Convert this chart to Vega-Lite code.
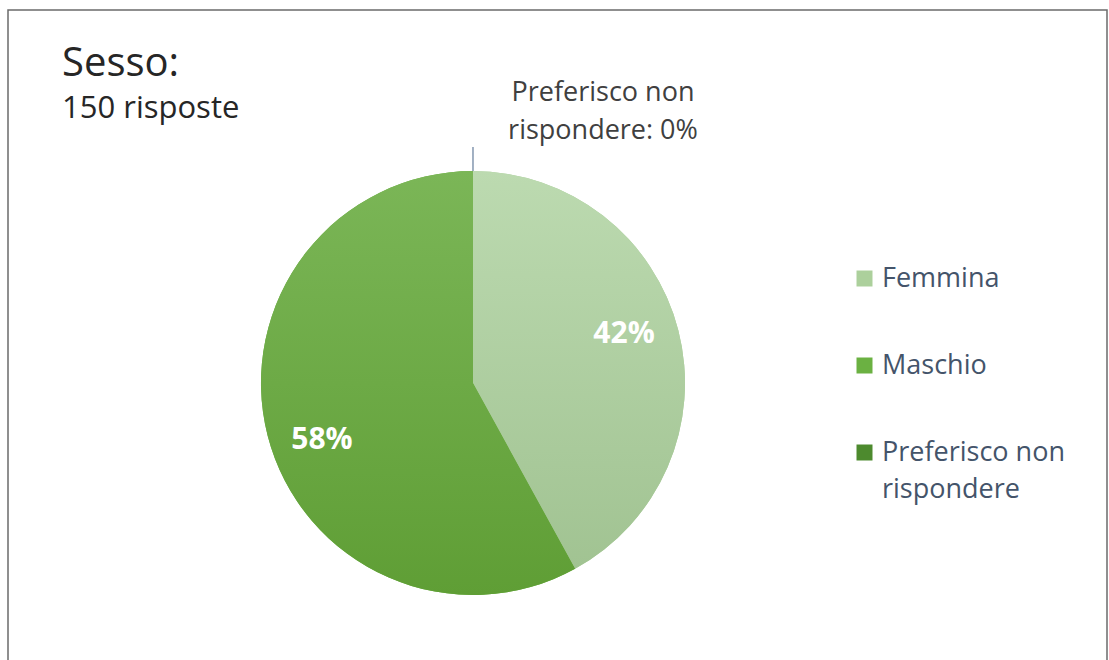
{
  "$schema": "https://vega.github.io/schema/vega-lite/v6.json",
  "width": 1099,
  "height": 700,
  "autosize": "none",
  "padding": {"left": 8, "top": 10, "right": 2, "bottom": 0},
  "config": {
    "view": {"stroke": "#6b6b6b", "strokeWidth": 1.5},
    "font": "Open Sans",
    "style": {"guide-label": {"lineHeight": 37}}
  },
  "title": {
    "text": "Sesso:",
    "subtitle": "150 risposte",
    "anchor": "start",
    "frame": "group",
    "orient": "top",
    "font": "Open Sans",
    "fontSize": 40,
    "fontWeight": "normal",
    "color": "#262626",
    "subtitleFont": "Open Sans",
    "subtitleFontSize": 31,
    "subtitleColor": "#262626",
    "subtitlePadding": 10,
    "offset": -114,
    "dx": 54
  },
  "data": {
    "values": [
      {"Sesso": "Femmina", "risposte": 63, "etichetta": "42%"},
      {"Sesso": "Maschio", "risposte": 87, "etichetta": "58%"},
      {"Sesso": "Preferisco non rispondere", "risposte": 0, "etichetta": "Preferisco non rispondere: 0%"}
    ]
  },
  "encoding": {
    "theta": {"field": "risposte", "type": "quantitative", "stack": true},
    "x": {"datum": 0.4231, "type": "quantitative", "scale": {"domain": [0, 1], "nice": false}, "axis": null},
    "y": {"datum": 0.4671, "type": "quantitative", "scale": {"domain": [0, 1], "nice": false}, "axis": null}
  },
  "layer": [
    {
      "mark": {"type": "arc", "outerRadius": 212},
      "encoding": {
        "color": {
          "field": "Sesso",
          "type": "nominal",
          "scale": {
            "domain": ["Femmina", "Maschio", "Preferisco non rispondere"],
            "range": ["#acd09c", "#6bb142", "#4d8a2e"]
          },
          "legend": {
            "orient": "none",
            "legendX": 843,
            "legendY": 255,
            "title": null,
            "padding": 0,
            "symbolType": "square",
            "symbolSize": 256,
            "symbolStrokeWidth": 0,
            "labelFont": "Open Sans",
            "labelFontSize": 27,
            "labelColor": "#44546a",
            "labelOffset": 4,
            "labelLimit": 300,
            "rowPadding": 59,
            "labelExpr": "datum.label == 'Preferisco non rispondere' ? ['Preferisco non', 'rispondere'] : datum.label"
          }
        }
      }
    },
    {
      "mark": {"type": "arc", "outerRadius": 212},
      "encoding": {
        "detail": {"field": "Sesso"},
        "fill": {
          "condition": [
            {"test": "datum.Sesso == 'Femmina'", "value": {"gradient": "linear", "x1": 0, "y1": 0, "x2": 0, "y2": 1, "stops": [{"offset": 0, "color": "#bcdab0"}, {"offset": 1, "color": "#a1c392"}]}},
            {"test": "datum.Sesso == 'Maschio'", "value": {"gradient": "linear", "x1": 0, "y1": 0, "x2": 0, "y2": 1, "stops": [{"offset": 0, "color": "#7bb657"}, {"offset": 1, "color": "#5f9e35"}]}}
          ],
          "value": "#4d8a2e"
        }
      }
    },
    {
      "mark": {"type": "arc", "innerRadius": 212, "outerRadius": 236, "fill": null, "stroke": "#8497b0", "strokeWidth": 1.5},
      "encoding": {
        "detail": {"field": "Sesso"},
        "strokeOpacity": {"condition": {"test": "datum.Sesso == 'Preferisco non rispondere'", "value": 1}, "value": 0}
      }
    },
    {
      "mark": {"type": "text", "radius": 160, "thetaOffset": -0.085, "dy": 4, "fontSize": 30, "fontWeight": "bold", "color": "white", "font": "Open Sans"},
      "encoding": {
        "detail": {"field": "Sesso"},
        "text": {"field": "etichetta"},
        "opacity": {"condition": {"test": "datum.Sesso == 'Preferisco non rispondere'", "value": 0}, "value": 1}
      }
    },
    {
      "mark": {"type": "text", "radius": 290, "dx": 130, "fontSize": 27, "color": "#404040", "font": "Open Sans", "lineBreak": "|", "lineHeight": 38},
      "encoding": {
        "detail": {"field": "Sesso"},
        "text": {"value": "Preferisco non|rispondere: 0%"},
        "opacity": {"condition": {"test": "datum.Sesso == 'Preferisco non rispondere'", "value": 1}, "value": 0}
      }
    }
  ]
}
